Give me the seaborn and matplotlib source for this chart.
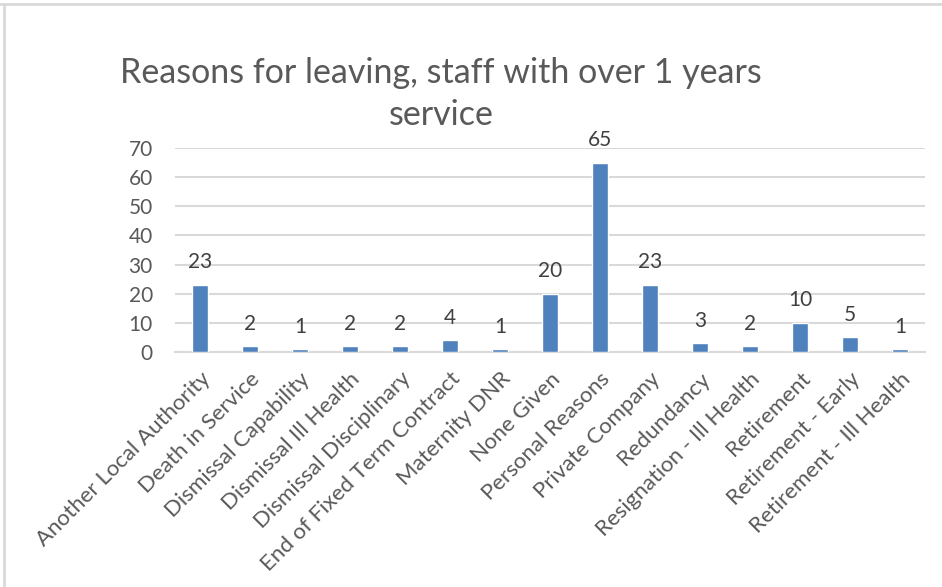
import matplotlib
matplotlib.use("Agg")
import matplotlib.pyplot as plt
import matplotlib.lines as mlines
import seaborn as sns
import pandas as pd

categories = ["Another Local Authority", "Death in Service", "Dismissal Capability",
              "Dismissal Ill Health", "Dismissal Disciplinary", "End of Fixed Term Contract",
              "Maternity DNR", "None Given", "Personal Reasons", "Private Company",
              "Redundancy", "Resignation - Ill Health", "Retirement", "Retirement - Early",
              "Retirement - Ill Health"]
values = [23, 2, 1, 2, 2, 4, 1, 20, 65, 23, 3, 2, 10, 5, 1]
yticks = [0, 10, 20, 30, 40, 50, 60, 70]
title = "Reasons for leaving, staff with over 1 years\nservice"

sns.set_theme(style="white")
plt.rcParams['font.family'] = ['Lato', 'DejaVu Sans']

df = pd.DataFrame({"reason": categories, "count": values})

fig = plt.figure(figsize=(9.42, 5.87), dpi=100)
ax = fig.add_axes([175/942, 1-352/587, 750/942, 204/587])
sns.barplot(data=df, x="reason", y="count", color="#4F81BD", width=0.32,
            saturation=1, ax=ax, zorder=3)
ax.set_xlim(-0.5, len(categories) - 0.5)
ax.set_ylim(0, 70)
ax.set_yticks(yticks)
ax.set_xlabel("")
ax.set_ylabel("")
ax.grid(axis="y", color="#d9d9d9", linewidth=1.5)
ax.set_axisbelow(True)
for s in ["top", "right", "left"]:
    ax.spines[s].set_visible(False)
ax.spines["bottom"].set_color("#d9d9d9")
ax.spines["bottom"].set_linewidth(1.5)
ax.spines["bottom"].set_zorder(1)
ax.tick_params(axis="y", labelsize=15, labelcolor="#595959", length=0, pad=16)
ax.tick_params(axis="x", labelsize=16, labelcolor="#595959", length=0, pad=12)
plt.setp(ax.get_xticklabels(), rotation=45, ha="right", rotation_mode="anchor")
for c in ax.containers:
    ax.bar_label(c, fmt="%d", padding=9, fontsize=15, color="#404040")

fig.text(441/942, 1-94/587, title, ha="center", va="center", fontsize=24.5,
         color="#595959", linespacing=1.35)

fig.add_artist(mlines.Line2D([0, 1], [1-4/587, 1-4/587], color="#d9d9d9", lw=2,
                             transform=fig.transFigure))
fig.add_artist(mlines.Line2D([4/942, 4/942], [0, 1-4/587], color="#d9d9d9", lw=2,
                             transform=fig.transFigure))

fig.savefig("out.png", dpi=100, facecolor="white")
